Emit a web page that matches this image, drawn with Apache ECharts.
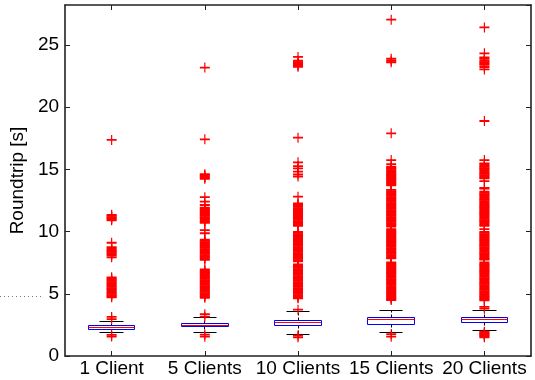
<!DOCTYPE html>
<html>
<head>
<meta charset="utf-8">
<script src="https://cdn.jsdelivr.net/npm/echarts@6/dist/echarts.min.js"></script>
<style>
  html, body { margin: 0; padding: 0; background: #fff; }
  #chart { width: 535px; height: 380px; }
</style>
</head>
<body>
<div id="chart"></div>
<script>
// Client counts along the x axis
const categories = ['1 Client', '5 Clients', '10 Clients', '15 Clients', '20 Clients'];

// Box statistics per client count: [lower whisker, Q1, median, Q3, upper whisker] in seconds
const boxStats = [
  [1.85, 2.15, 2.31, 2.47, 2.80],
  [1.85, 2.33, 2.45, 2.60, 3.06],
  [1.75, 2.47, 2.71, 2.87, 3.60],
  [1.85, 2.53, 2.93, 3.06, 3.68],
  [2.01, 2.68, 2.90, 3.06, 3.68]
];

// Outlier roundtrip times (s) for each client count
const outliers1 = [17.36,
  11.34, 11.25, 11.16, 11.07, 10.98, 10.9,
  9.1, 8.74, 8.64, 8.55, 8.45, 8.36, 8.26, 8.17, 8.07, 7.93,
  6.32, 6.22, 6.13, 6.03, 5.94, 5.84, 5.75, 5.65, 5.56, 5.46, 5.37, 5.27, 5.18, 5.08, 4.99, 4.89, 4.8, 4.72,
  3.14, 2.97, 1.7, 1.56];

const outliers5 = [23.17, 17.41,
  14.61, 14.52, 14.43, 14.33, 14.24,
  12.76, 12.41, 12.13,
  11.92, 11.83, 11.73, 11.64, 11.54, 11.45, 11.35, 11.26, 11.16, 11.07, 10.97, 10.88, 10.78, 10.69,
  10.11, 9.86,
  9.34, 9.25, 9.15, 9.06, 8.96, 8.87, 8.77, 8.68, 8.58, 8.49, 8.39, 8.3, 8.2, 8.11, 8.01, 7.92, 7.82, 7.73,
  6.95, 6.86, 6.76, 6.67, 6.57, 6.48, 6.38, 6.29, 6.19, 6.1, 6.0, 5.91, 5.81, 5.72, 5.62, 5.53, 5.43, 5.34,
  5.24, 5.15, 5.05, 4.96, 4.86, 4.77, 4.67,
  3.36, 3.16, 1.72, 1.55];

const outliers10 = [24.03, 23.72, 23.61, 23.51, 23.42, 23.33, 23.24,
  17.54,
  15.56, 15.26, 15.08, 14.81, 14.6, 14.42,
  12.8,
  12.26, 12.17, 12.07, 11.98, 11.88, 11.79, 11.69, 11.6, 11.5, 11.41, 11.31, 11.22, 11.12, 11.03, 10.93,
  10.84, 10.74, 10.65, 10.55, 10.46,
  9.98, 9.89, 9.79, 9.7, 9.6, 9.51, 9.41, 9.32, 9.22, 9.13, 9.03, 8.94, 8.84, 8.75, 8.65, 8.56, 8.46, 8.37,
  8.27, 8.18, 8.08, 7.99, 7.89, 7.8, 7.7, 7.61,
  7.36, 7.27, 7.17, 7.08, 6.98, 6.89, 6.79, 6.7, 6.6, 6.51, 6.41, 6.32, 6.22, 6.13, 6.03, 5.94, 5.84, 5.75,
  5.65, 5.56, 5.46, 5.37, 5.27, 5.18, 5.08, 4.99, 4.89, 4.8, 4.7, 4.63,
  3.72, 1.64, 1.5];

const outliers15 = [27.02, 23.88, 23.72, 23.6, 17.89,
  15.74, 15.42,
  15.22, 15.12, 15.03, 14.93, 14.84, 14.74, 14.65, 14.55, 14.46, 14.36, 14.27, 14.17, 14.08, 13.98, 13.89,
  13.79, 13.72,
  13.34, 13.24, 13.15, 13.05, 12.96, 12.86, 12.77, 12.67, 12.58, 12.48, 12.39, 12.29, 12.2, 12.1, 12.01,
  11.91, 11.82, 11.72, 11.63, 11.53, 11.44, 11.34, 11.25, 11.15, 11.06, 10.96, 10.87, 10.77, 10.68, 10.58,
  10.49, 10.4,
  10.19, 10.1, 10.0, 9.91, 9.81, 9.72, 9.62, 9.53, 9.43, 9.34, 9.24, 9.15, 9.05, 8.96, 8.86, 8.77, 8.67,
  8.58, 8.48, 8.39, 8.29, 8.2, 8.1, 8.01, 7.91, 7.84,
  7.51, 7.42, 7.32, 7.23, 7.13, 7.04, 6.94, 6.85, 6.75, 6.66, 6.56, 6.47, 6.37, 6.28, 6.18, 6.09, 5.99,
  5.9, 5.8, 5.71, 5.61, 5.52, 5.42, 5.33, 5.23, 5.14, 5.04, 4.95, 4.85, 4.76, 4.66, 4.57, 4.49,
  1.75, 1.55];

const outliers20 = [26.4,
  24.32, 24.0, 23.88, 23.72, 23.6, 23.5, 23.4, 23.22, 23.02,
  18.88,
  15.74,
  15.48, 15.39, 15.29, 15.2, 15.1, 15.01, 14.91, 14.82, 14.72, 14.63, 14.53, 14.44, 14.34, 14.27,
  14.05, 13.5, 13.44,
  13.2, 13.11, 13.01, 12.92, 12.82, 12.73, 12.63, 12.54, 12.44, 12.35, 12.25, 12.16, 12.06, 11.97, 11.87,
  11.78, 11.68, 11.59, 11.49, 11.4, 11.3, 11.21, 11.11, 11.02, 10.92, 10.83, 10.73, 10.64, 10.54, 10.45,
  10.2,
  9.98, 9.89, 9.79, 9.7, 9.6, 9.51, 9.41, 9.32, 9.22, 9.13, 9.03, 8.94, 8.84, 8.75, 8.65, 8.56, 8.46, 8.37,
  8.27, 8.18, 8.08, 7.99, 7.89, 7.8, 7.74,
  7.52,
  7.4, 7.31, 7.21, 7.12, 7.02, 6.93, 6.83, 6.74, 6.64, 6.55, 6.45, 6.36, 6.26, 6.17, 6.07, 5.98, 5.88,
  5.79, 5.69, 5.6, 5.5, 5.41, 5.31, 5.22, 5.12, 5.03, 4.93, 4.84, 4.74, 4.65, 4.55, 4.48,
  3.94, 3.8,
  1.95, 1.88, 1.8, 1.72, 1.65, 1.58, 1.5];

const outlierGroups = [outliers1, outliers5, outliers10, outliers15, outliers20];

// y axis ticks (seconds)
const yMin = 0;
const yMax = 28.2;
const yStep = 5;

const FONT = 'Liberation Sans, Arial, Helvetica, sans-serif';
const AXIS_COLOR = '#222';

const outlierPoints = [];
outlierGroups.forEach((vals, i) => {
  vals.forEach(v => outlierPoints.push([i, v]));
});

// "+" marker: slightly heavier crossbar so dense runs merge into solid strips
const plusPath = 'path://M4.4,0H5.6V4.1H10V5.9H5.6V10H4.4V5.9H0V4.1H4.4Z';

function snap(v) { return Math.round(v - 0.5) + 0.5; }

function renderBox(params, api) {
  const idx = api.value(0);
  const cx = api.coord([idx, 0])[0];
  const bw = api.size([1, 0])[0] * 0.5;
  const cw = bw * 0.5;
  const y = k => snap(api.coord([idx, api.value(k)])[1]);
  const lo = y(1), q1 = y(2), med = y(3), q3 = y(4), hi = y(5);
  const x0 = snap(cx - bw / 2), x1 = snap(cx + bw / 2);
  const xc = snap(cx);
  const black = { stroke: '#000', lineWidth: 1 };
  const dashed = { stroke: '#000', lineWidth: 1, lineDash: [3, 2] };
  return {
    type: 'group',
    children: [
      { type: 'line', shape: { x1: xc, y1: q3, x2: xc, y2: hi }, style: dashed },
      { type: 'line', shape: { x1: xc, y1: q1, x2: xc, y2: lo }, style: dashed },
      { type: 'line', shape: { x1: snap(cx - cw / 2), y1: hi, x2: snap(cx + cw / 2), y2: hi }, style: black },
      { type: 'line', shape: { x1: snap(cx - cw / 2), y1: lo, x2: snap(cx + cw / 2), y2: lo }, style: black },
      { type: 'rect', shape: { x: x0, y: q3, width: x1 - x0, height: q1 - q3 },
        style: { fill: '#fff', stroke: '#0000ff', lineWidth: 1 } },
      { type: 'line', shape: { x1: x0, y1: med, x2: x1, y2: med }, style: { stroke: '#ff0000', lineWidth: 1 } }
    ]
  };
}

const chart = echarts.init(document.getElementById('chart'), null, { renderer: 'canvas' });

chart.setOption({
  animation: false,
  backgroundColor: '#fff',
  grid: { left: 62, right: 4, top: 5, bottom: 24, containLabel: false },
  xAxis: [
    {
      type: 'category',
      data: categories,
      position: 'bottom',
      boundaryGap: true,
      axisLine: { show: true, onZero: false, lineStyle: { color: AXIS_COLOR, width: 1.6 } },
      axisTick: { show: true, inside: true, alignWithLabel: true, length: 5, lineStyle: { color: AXIS_COLOR } },
      axisLabel: { color: '#000', fontFamily: FONT, fontSize: 19, margin: 3, interval: 0 },
      splitLine: { show: false }
    },
    {
      type: 'category',
      data: categories,
      position: 'top',
      boundaryGap: true,
      axisLine: { show: true, onZero: false, lineStyle: { color: AXIS_COLOR, width: 1.6 } },
      axisTick: { show: true, inside: true, alignWithLabel: true, length: 5, lineStyle: { color: AXIS_COLOR } },
      axisLabel: { show: false },
      splitLine: { show: false }
    }
  ],
  yAxis: [
    {
      type: 'value',
      min: yMin,
      max: yMax,
      interval: yStep,
      position: 'left',
      name: 'Roundtrip [s]',
      nameLocation: 'middle',
      nameGap: 38,
      nameTextStyle: { color: '#000', fontFamily: FONT, fontSize: 19 },
      axisLine: { show: true, onZero: false, lineStyle: { color: AXIS_COLOR, width: 1.6 } },
      axisTick: { show: true, inside: true, length: 5, lineStyle: { color: AXIS_COLOR } },
      axisLabel: { color: '#000', fontFamily: FONT, fontSize: 19, margin: 6, showMaxLabel: false },
      splitLine: { show: false }
    },
    {
      type: 'value',
      min: yMin,
      max: yMax,
      interval: yStep,
      position: 'right',
      axisLine: { show: true, onZero: false, lineStyle: { color: AXIS_COLOR, width: 1.6 } },
      axisTick: { show: true, inside: true, length: 5, lineStyle: { color: AXIS_COLOR } },
      axisLabel: { show: false },
      splitLine: { show: false }
    }
  ],
  series: [
    {
      type: 'custom',
      xAxisIndex: 0,
      yAxisIndex: 0,
      renderItem: renderBox,
      encode: { x: 0, y: [1, 2, 3, 4, 5] },
      data: boxStats.map((s, i) => [i].concat(s)),
      z: 2
    },
    {
      type: 'scatter',
      xAxisIndex: 0,
      yAxisIndex: 0,
      symbol: plusPath,
      symbolSize: 10,
      itemStyle: { color: '#ff0000', opacity: 1 },
      data: outlierPoints,
      z: 3
    }
  ],
  graphic: [
    {
      type: 'line',
      shape: { x1: 0, y1: 296.5, x2: 44, y2: 296.5 },
      style: { stroke: '#6d7b99', lineWidth: 1, lineDash: [1, 3] },
      silent: true
    }
  ]
});
</script>
</body>
</html>
